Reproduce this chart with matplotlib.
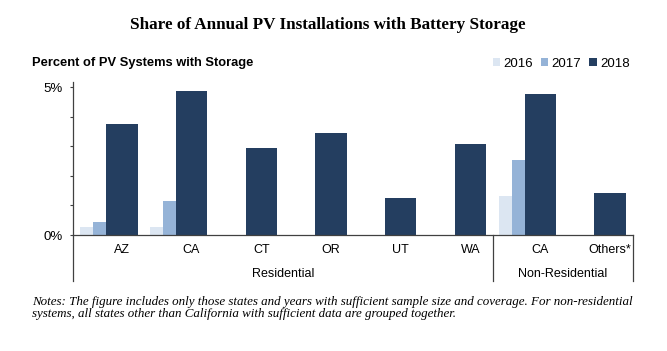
import numpy as np
import matplotlib
matplotlib.use("Agg")
import matplotlib.pyplot as plt
import matplotlib.transforms as mtransforms

# share of PV systems with storage (%), NaN = no data
states = ["AZ", "CA", "CT", "OR", "UT", "WA", "CA", "Others*"]
groups = ["Residential", "Non-Residential"]
group_sizes = [6, 2]
years = ["2016", "2017", "2018"]
share_2016 = [0.26, 0.26, np.nan, np.nan, np.nan, np.nan, 1.31, np.nan]
share_2017 = [0.43, 1.14, np.nan, np.nan, np.nan, np.nan, 2.55, np.nan]
share_2018 = [3.76, 4.88, 2.93, 3.44, 1.26, 3.06, 4.77, 1.41]

colors = ["#dce6f2", "#95b3d7", "#243e60"]
sans = "Liberation Sans"
serif = "Liberation Serif"

fig = plt.figure(figsize=(6.67, 3.51), dpi=100)
W, H = 667, 351
ax = fig.add_axes([73 / W, 1 - 235 / H, 560 / W, 153.3 / H])

x = np.arange(len(states))
# 2016/2017 narrow bars sit left of the 2018 bar
ax.bar(x - 0.5025, share_2016, width=0.185, color=colors[0], label=years[0])
ax.bar(x - 0.3175, share_2017, width=0.185, color=colors[1], label=years[1])
ax.bar(x, share_2018, width=0.45, color=colors[2], label=years[2])

ax.set_xlim(-0.70, 7.33)
ax.set_ylim(0, 5.18)
ax.set_yticks([0, 1, 2, 3, 4, 5])
ax.set_yticklabels(["0%", "", "", "", "", "5%"], family=sans, fontsize=9.5)
ax.tick_params(axis="y", length=2.2, width=0.8, pad=5, color="#404040")
ax.set_xticks([])
for s in ["top", "right"]:
    ax.spines[s].set_visible(False)
for s in ["left", "bottom"]:
    ax.spines[s].set_color("#404040")
    ax.spines[s].set_linewidth(0.9)

trans = mtransforms.blended_transform_factory(ax.transData, ax.transAxes)
depth = -46 / 153.3
bounds = [-0.70]
for n in group_sizes:
    bounds.append(bounds[-1] + n)
bounds[-1] = 7.33
bounds[1] = 5.32
for b in bounds:
    ax.plot([b, b], [0, depth], transform=trans, color="#404040",
            lw=0.9, clip_on=False)

for i, name in enumerate(states):
    ax.text(i, -15 / 153.3, name, transform=trans, ha="center", va="center",
            family=sans, fontsize=9)
for g, name in enumerate(groups):
    ax.text((bounds[g] + bounds[g + 1]) / 2, -39 / 153.3, name, transform=trans,
            ha="center", va="center", family=sans, fontsize=9)

fig.text(328 / W, 1 - 25 / H, "Share of Annual PV Installations with Battery Storage",
         ha="center", va="center", family=serif, fontweight="bold", fontsize=12.3)
fig.text(31.5 / W, 1 - 63.3 / H, "Percent of PV Systems with Storage",
         ha="left", va="center", family=sans, fontweight="bold", fontsize=9.25)

fig.legend(loc="center right", bbox_to_anchor=(629.5 / W, 1 - 64 / H), ncol=3,
           frameon=False, handlelength=0.55, handleheight=0.55, handletextpad=0.25,
           columnspacing=0.6, borderpad=0, borderaxespad=0,
           prop={"family": sans, "size": 9.5})

notes = ("Notes: The figure includes only those states and years with sufficient sample size and coverage. "
         "For non-residential\nsystems, all states other than California with sufficient data are grouped together.")
fig.text(32.5 / W, 1 - 295.5 / H, notes, ha="left", va="top", family=serif,
         style="italic", fontsize=9.4, linespacing=1.1)

fig.savefig("out.png", dpi=100)
